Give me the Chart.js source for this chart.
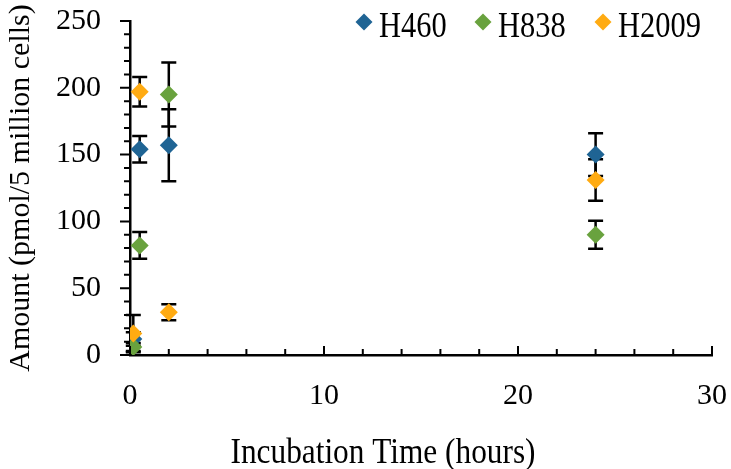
<!DOCTYPE html>
<html>
<head>
<meta charset="utf-8">
<script src="https://cdn.jsdelivr.net/npm/chart.js@4"></script>
<style>
  body { margin: 0; background: #fff; }
  #wrap { width: 731px; height: 469px; }
</style>
</head>
<body>
<div id="wrap"><canvas id="chart"></canvas></div>
<script>
const times = [0.17, 0.5, 2, 24];
const h460 = [12, 154, 157, 150];
const h460Err = [5, 10, 27, 16];
const h838 = [6, 82, 195, 90];
const h838Err = [3, 10, 24, 10.5];
const h2009 = [16, 197, 32, 131];
const h2009Err = [14, 11, 6, 15.5];

const seriesNames = ["H460", "H838", "H2009"];
const seriesColors = ["#1f6494", "#69a23e", "#ffab12"];
const xTitle = "Incubation Time (hours)";
const yTitle = "Amount (pmol/5 million cells)";

const font = "'Liberation Serif', 'Times New Roman', serif";

function points(vals, errs) {
  return times.map((t, i) => ({ x: t, y: vals[i], err: errs[i] }));
}

// text a bit narrower than tall, as in the source image
function condensedText(ctx, text, x, y, size, align) {
  ctx.save();
  ctx.translate(x, y);
  ctx.scale(0.87, 1);
  ctx.font = size + "px " + font;
  ctx.textAlign = align;
  ctx.textBaseline = "alphabetic";
  ctx.fillStyle = "#000";
  ctx.fillText(text, 0, 0);
  ctx.restore();
}

const errorBars = {
  id: "errorBars",
  beforeDatasetsDraw(chart) {
    const ctx = chart.ctx;
    const xs = chart.scales.x, ys = chart.scales.y;
    ctx.save();
    ctx.strokeStyle = "#000";
    ctx.lineWidth = 2.5;
    chart.data.datasets.forEach(ds => {
      ds.data.forEach(p => {
        const px = xs.getPixelForValue(p.x);
        const top = ys.getPixelForValue(p.y + p.err);
        const bot = ys.getPixelForValue(Math.max(0, p.y - p.err));
        ctx.beginPath();
        ctx.moveTo(px, top); ctx.lineTo(px, bot);
        ctx.moveTo(px - 7.5, top); ctx.lineTo(px + 7.5, top);
        ctx.moveTo(px - 7.5, bot); ctx.lineTo(px + 7.5, bot);
        ctx.stroke();
      });
    });
    ctx.restore();
  }
};

const decorations = {
  id: "decorations",
  afterDraw(chart) {
    const ctx = chart.ctx;
    const xs = chart.scales.x, ys = chart.scales.y;
    const a = chart.chartArea;
    ctx.save();
    ctx.strokeStyle = "#000";
    ctx.lineWidth = 2;
    ctx.beginPath();
    for (let v = 0; v <= 250; v += 10) {
      const py = ys.getPixelForValue(v);
      const len = v % 50 === 0 ? 10 : 6;
      ctx.moveTo(a.left - len, py); ctx.lineTo(a.left, py);
    }
    for (let v = 0; v <= 30; v += 2) {
      const px = xs.getPixelForValue(v);
      const len = v % 10 === 0 ? 9 : 6;
      ctx.moveTo(px, a.bottom - len); ctx.lineTo(px, a.bottom);
    }
    ctx.stroke();

    // x axis title
    condensedText(ctx, xTitle, 383, 463, 36, "center");

    // legend
    const legendX = [364, 483, 603];
    seriesNames.forEach((name, i) => {
      const cx = legendX[i], cy = 22;
      ctx.fillStyle = seriesColors[i];
      ctx.beginPath();
      ctx.moveTo(cx, cy - 8.5); ctx.lineTo(cx + 8.5, cy);
      ctx.lineTo(cx, cy + 8.5); ctx.lineTo(cx - 8.5, cy);
      ctx.closePath(); ctx.fill();
      condensedText(ctx, name, cx + 15, 37, 35, "left");
    });
    ctx.restore();
  }
};

new Chart(document.getElementById("chart"), {
  type: "scatter",
  data: {
    datasets: [
      { label: seriesNames[0], data: points(h460, h460Err), order: 3 },
      { label: seriesNames[1], data: points(h838, h838Err), order: 2 },
      { label: seriesNames[2], data: points(h2009, h2009Err), order: 1 }
    ].map((ds, i) => Object.assign(ds, {
      backgroundColor: seriesColors[i],
      borderColor: seriesColors[i],
      pointStyle: "rectRot",
      pointRadius: 9,
      pointHoverRadius: 9,
      borderWidth: 0
    }))
  },
  options: {
    responsive: true,
    maintainAspectRatio: false,
    animation: false,
    layout: { padding: { top: 21, right: 19, left: 0, bottom: 0 } },
    plugins: { legend: { display: false }, tooltip: { enabled: false } },
    scales: {
      x: {
        type: "linear", min: 0, max: 30,
        afterFit(scale) { scale.height = 114; scale.paddingLeft = 0; scale.paddingRight = 0; },
        grid: { display: false },
        border: { display: true, color: "#000", width: 2.5 },
        ticks: { stepSize: 10, color: "#000", font: { family: font, size: 30 }, padding: 15 },
        title: { display: false }
      },
      y: {
        min: 0, max: 250,
        afterFit(scale) { scale.width = 130; scale.paddingTop = 0; scale.paddingBottom = 0; },
        grid: { display: false },
        border: { display: true, color: "#000", width: 2.5 },
        ticks: { stepSize: 50, color: "#000", font: { family: font, size: 30 }, padding: 21 },
        title: { display: true, text: yTitle, color: "#000",
                 font: { family: font, size: 30 }, padding: { top: 3, bottom: 0 } }
      }
    }
  },
  plugins: [errorBars, decorations]
});
</script>
</body>
</html>
